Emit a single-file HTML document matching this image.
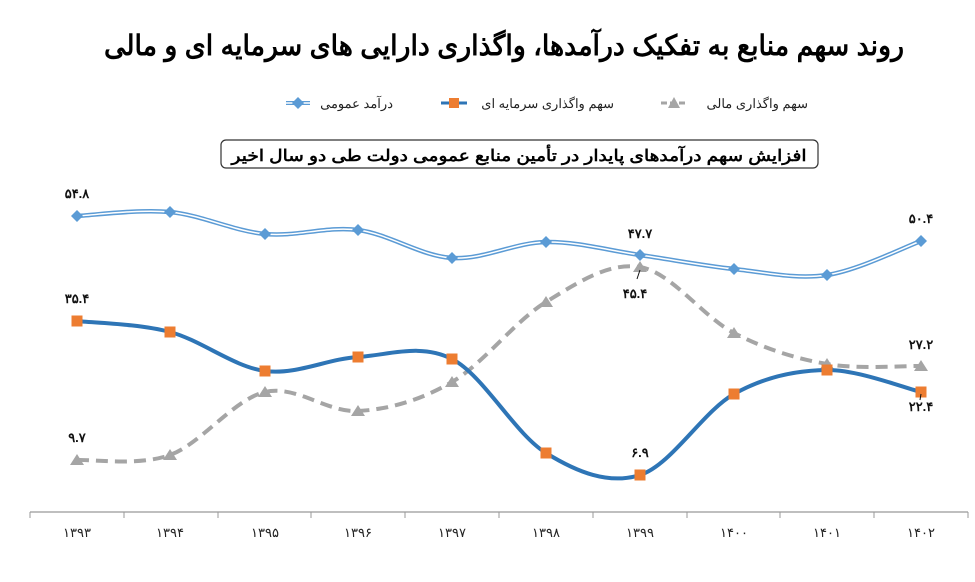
<!DOCTYPE html>
<html><head><meta charset="utf-8">
<style>
body{margin:0;background:#fff;width:975px;height:577px;overflow:hidden;font-family:"Liberation Sans","Noto Sans CJK SC",sans-serif;}
</style></head>
<body>
<svg id="s" width="975" height="577" xmlns="http://www.w3.org/2000/svg" font-family="'Liberation Sans','Noto Sans CJK SC',sans-serif">
<text x="504" y="55" text-anchor="middle" font-size="28" font-weight="bold" direction="rtl" fill="#000" textLength="800" lengthAdjust="spacingAndGlyphs">روند سهم منابع به تفکیک درآمدها، واگذاری دارایی های سرمایه ای و مالی</text>
<!-- legend -->
<g font-size="13" fill="#222" direction="rtl">
<line x1="286" y1="103" x2="310" y2="103" stroke="#5b9bd5" stroke-width="4"/><line x1="286" y1="103" x2="310" y2="103" stroke="#fff" stroke-width="1.5"/>
<path d="M298 97 L304 103 L298 109 L292 103Z" fill="#5b9bd5"/>
<text x="393" y="108" text-anchor="start">درآمد عمومی</text>
<line x1="441" y1="103" x2="467" y2="103" stroke="#2e75b6" stroke-width="3"/>
<rect x="449" y="98" width="10" height="10" fill="#ed7d31"/>
<text x="614" y="108" text-anchor="start">سهم واگذاری سرمایه ای</text>
<line x1="661" y1="103" x2="687" y2="103" stroke="#a5a5a5" stroke-width="3" stroke-dasharray="6,3"/>
<path d="M674 97 L680 108 L668 108Z" fill="#a5a5a5"/>
<text x="808" y="108" text-anchor="start">سهم واگذاری مالی</text>
</g>
<rect x="221" y="140" width="597" height="28" rx="5" fill="#fff" stroke="#333" stroke-width="1.2"/>
<text x="519" y="161" text-anchor="middle" font-size="16" font-weight="bold" direction="rtl" textLength="575" lengthAdjust="spacingAndGlyphs">افزایش سهم درآمدهای پایدار در تأمین منابع عمومی دولت طی دو سال اخیر</text>
<!-- axis -->
<line x1="30" y1="512" x2="968" y2="512" stroke="#999" stroke-width="1.2"/>
<g id="ticks" stroke="#999"></g>
<g id="labs" font-size="13" fill="#222" text-anchor="middle"></g>
<g id="series"></g>
<g font-size="13" font-weight="bold" fill="#111" text-anchor="middle">
<text x="77" y="198">۵۴.۸</text>
<text x="640" y="238">۴۷.۷</text>
<text x="921" y="223">۵۰.۴</text>
<text x="77" y="303">۳۵.۴</text>
<text x="640" y="457">۶.۹</text>
<text x="921" y="411">۲۲.۴</text>
<text x="77" y="442">۹.۷</text>
<text x="635" y="298">۴۵.۴</text>
<text x="921" y="349">۲۷.۲</text>
</g>
<line x1="637" y1="279" x2="640" y2="270" stroke="#111"/>
<line x1="920" y1="400" x2="921" y2="394" stroke="#111"/>
</svg>
<script>
var ns="http://www.w3.org/2000/svg",s=document.getElementById('series');
function el(t,a,p){var e=document.createElementNS(ns,t);for(var k in a)e.setAttribute(k,a[k]);(p||s).appendChild(e);return e;}
var X=[77,170,265,358,452,546,640,734,827,921];
var yrs=['۱۳۹۳','۱۳۹۴','۱۳۹۵','۱۳۹۶','۱۳۹۷','۱۳۹۸','۱۳۹۹','۱۴۰۰','۱۴۰۱','۱۴۰۲'];
var T=[30,124,218,311,405,499,593,687,780,874,968];
T.forEach(function(t){el('line',{x1:t,y1:512,x2:t,y2:518},document.getElementById('ticks'));});
X.forEach(function(x,i){var t=el('text',{x:x,y:537},document.getElementById('labs'));t.textContent=yrs[i];});
function path(Y){var p=X.map(function(x,i){return[x,Y[i]];});var d='M'+p[0][0]+' '+p[0][1];
for(var i=0;i<p.length-1;i++){var p0=p[i-1]||p[i],p1=p[i],p2=p[i+1],p3=p[i+2]||p2;var k=6;
d+=' C'+(p1[0]+(p2[0]-p0[0])/k)+' '+(p1[1]+(p2[1]-p0[1])/k)+' '+(p2[0]-(p3[0]-p1[0])/k)+' '+(p2[1]-(p3[1]-p1[1])/k)+' '+p2[0]+' '+p2[1];}return d;}
var B=[216,212,234,230,258,242,255,269,275,241];
var O=[321,332,371,357,359,453,475,394,370,392];
var G=[460,455,392,411,382,302,267,333,364,366];
el('path',{d:path(G),fill:'none',stroke:'#a5a5a5','stroke-width':4,'stroke-dasharray':'12,7'});
X.forEach(function(x,i){var y=G[i];el('path',{d:'M'+x+' '+(y-6)+' L'+(x+7)+' '+(y+5)+' L'+(x-7)+' '+(y+5)+'Z',fill:'#a5a5a5'});});
el('path',{d:path(B),fill:'none',stroke:'#5b9bd5','stroke-width':4.5});
el('path',{d:path(B),fill:'none',stroke:'#fff','stroke-width':1.5});
X.forEach(function(x,i){var y=B[i];el('path',{d:'M'+x+' '+(y-6)+' L'+(x+6)+' '+y+' L'+x+' '+(y+6)+' L'+(x-6)+' '+y+'Z',fill:'#5b9bd5'});});
el('path',{d:path(O),fill:'none',stroke:'#2e75b6','stroke-width':4});
X.forEach(function(x,i){el('rect',{x:x-5.5,y:O[i]-5.5,width:11,height:11,fill:'#ed7d31'});});
</script>
</body></html>
